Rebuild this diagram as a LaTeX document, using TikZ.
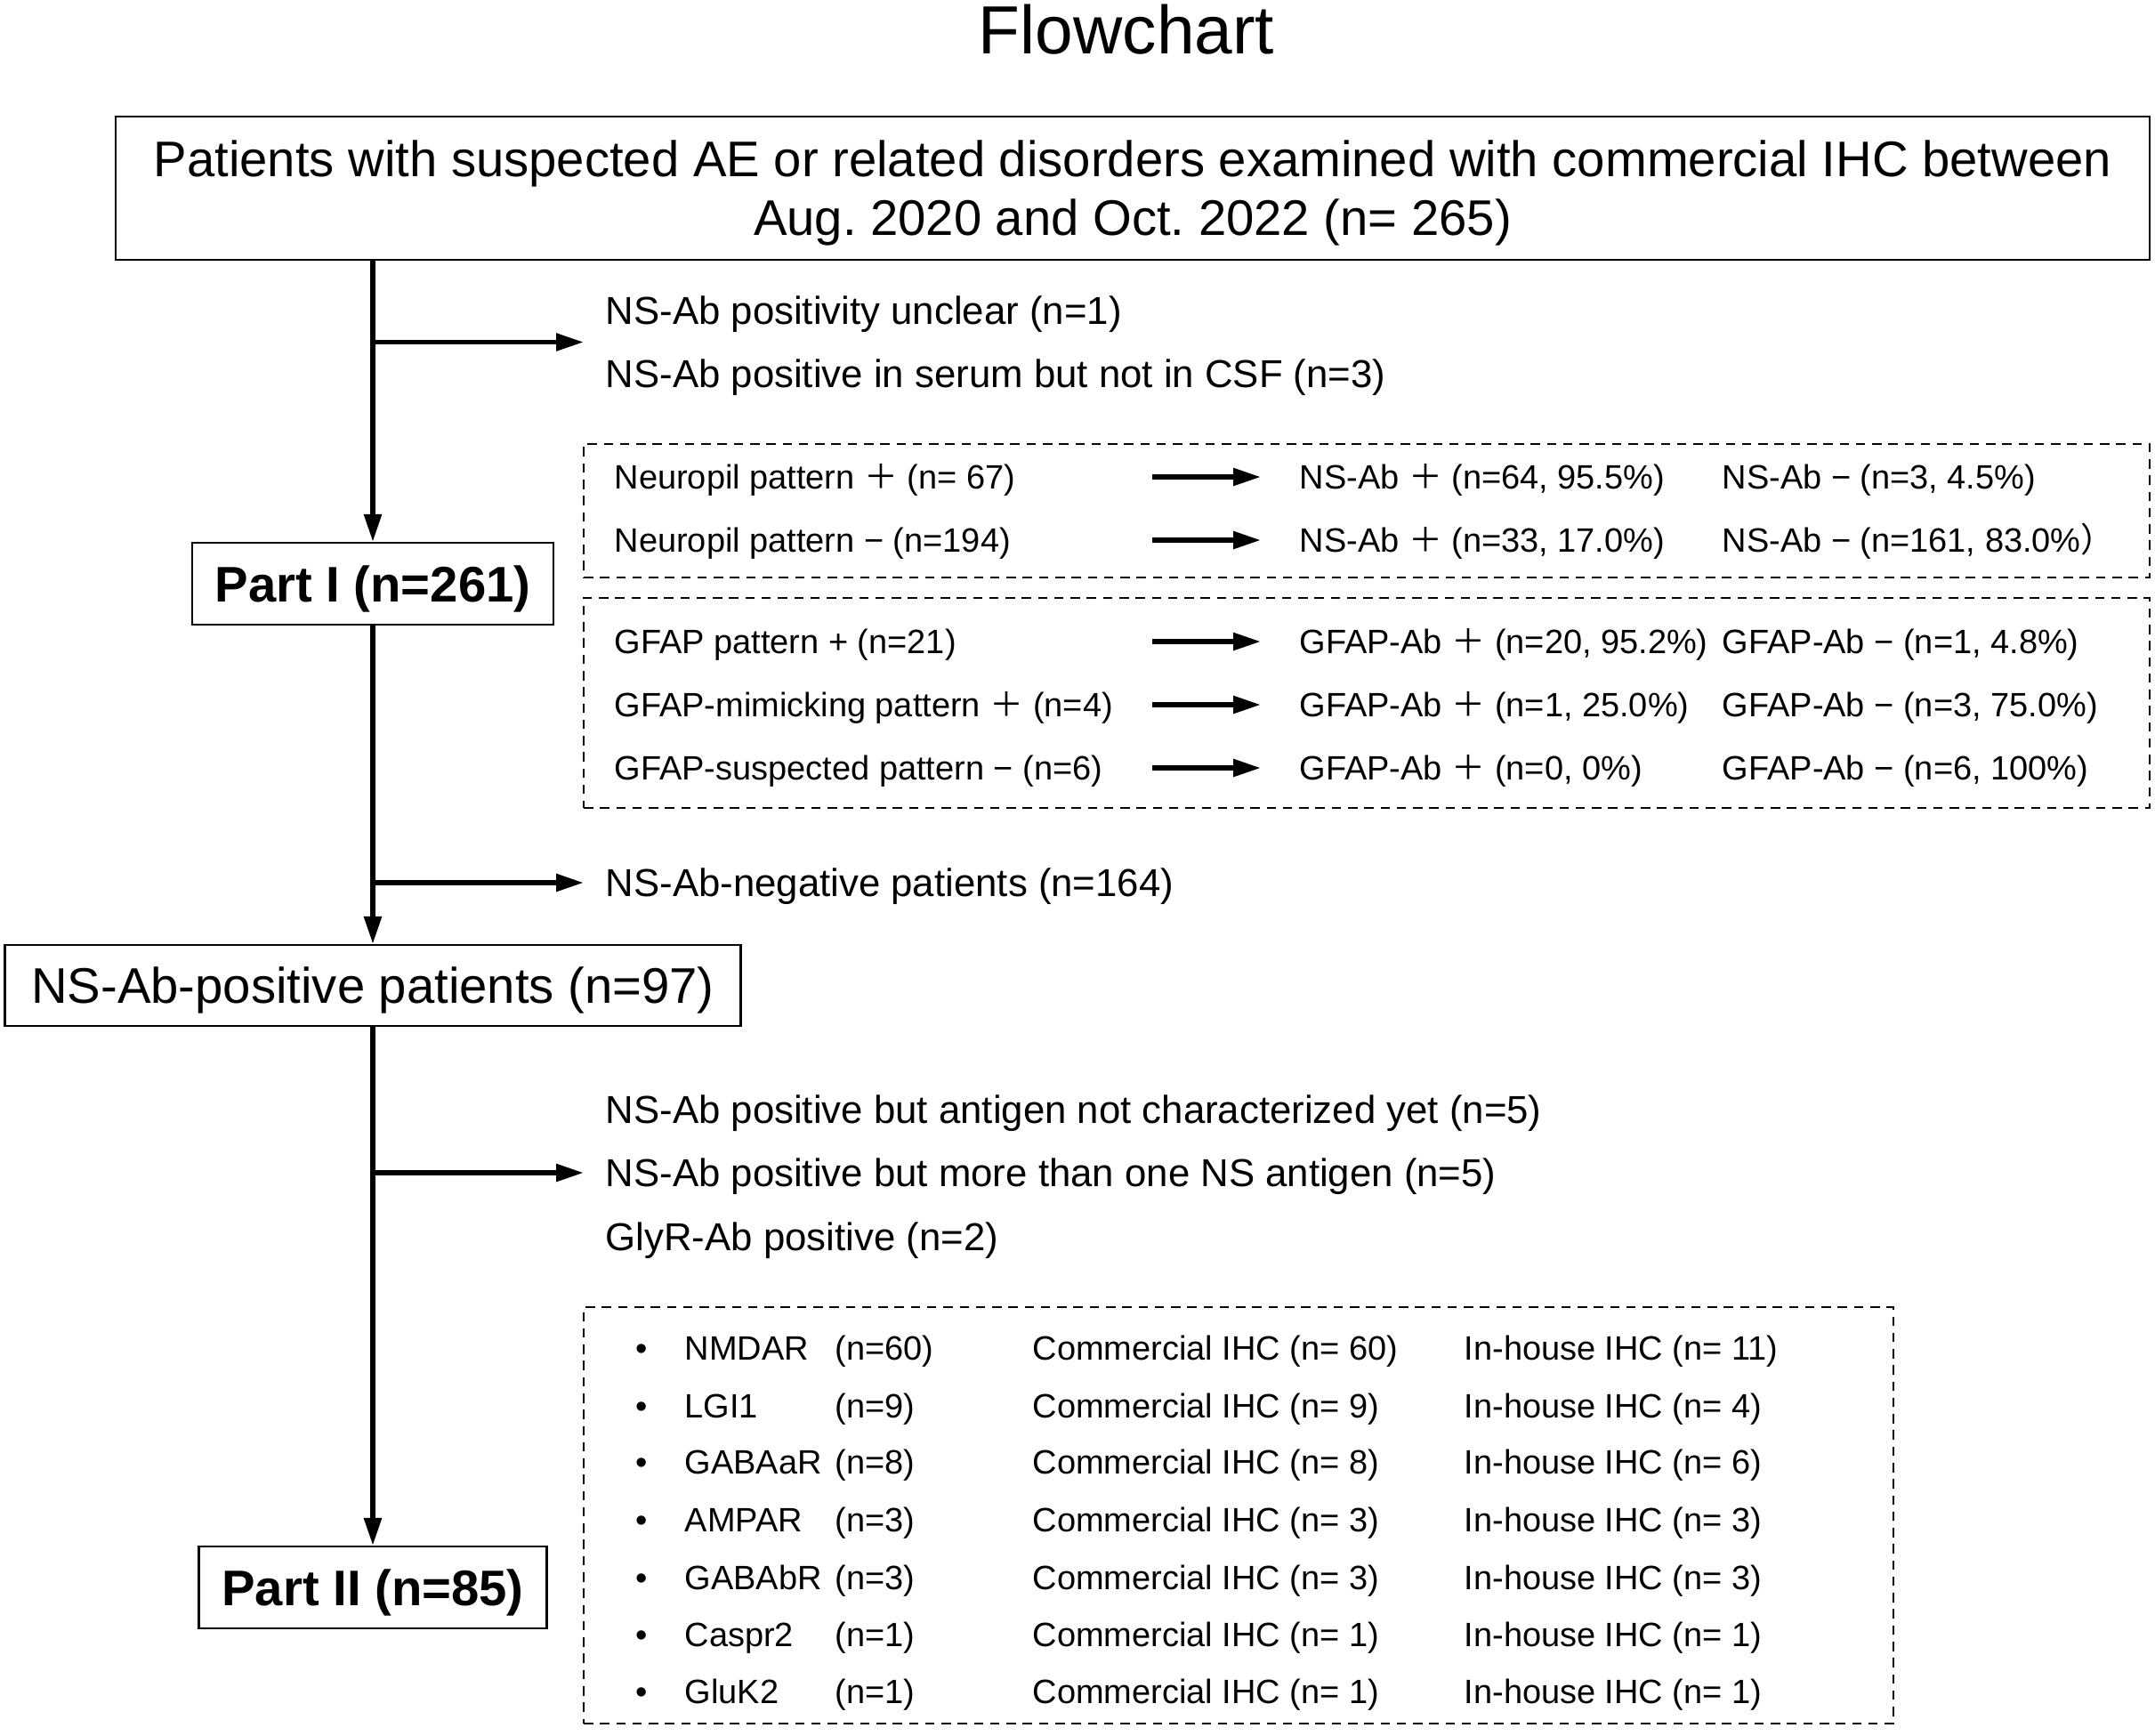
\documentclass[tikz,border=0pt]{standalone}
\usepackage{fontspec}
\setmainfont{Liberation Sans}
\newfontfamily\cjkfont{Noto Sans CJK SC}
\usetikzlibrary{arrows.meta,positioning,calc}
\frenchspacing

\newcommand{\wplus}{{\cjkfont ＋}}
\newcommand{\wparen}{{\cjkfont ）}}

\begin{document}
\begin{tikzpicture}[
  every node/.style={align=center, inner sep=0pt},
  title/.style={font=\fontsize{21.8}{26}\selectfont, text height=15.6pt, text depth=0pt},
  headbox/.style={draw, line width=0.6pt, text height=11.5pt, text depth=0pt,
                  font=\fontsize{16}{18.8}\selectfont},
  partbox/.style={draw, line width=0.6pt, text height=11.5pt, text depth=0pt,
                  font=\bfseries\fontsize{16}{19}\selectfont},
  excl/.style={anchor=west, align=left, inner xsep=0.24cm, text height=8.9pt, text depth=0pt,
               font=\fontsize{12.45}{20.3}\selectfont},
  group/.style={draw, dash pattern=on 3pt off 2.2pt, line width=0.5pt},
  cell/.style={anchor=west, text height=7.7pt, text depth=0pt, font=\fontsize{10.8}{13}\selectfont},
  arr/.style={-{Triangle[length=0.31cm, width=0.19cm]}, line width=1.6pt},
]
\useasboundingbox (0,0) rectangle (24.22,-19.50);

%% --- Title and entry box ---
\node[title] (title) at (12.66,-0.33) {Flowchart};
\node[headbox, text height=30.3pt, minimum width=22.86cm, minimum height=1.61cm] (entry) at (12.73,-2.115)
  {Patients with suspected AE or related disorders examined with commercial IHC between\\
   Aug. 2020 and Oct. 2022 (n= 265)};

%% --- Main column ---
\node[partbox, minimum width=4.06cm, minimum height=0.92cm] (partI)  at (4.19,-6.56)  {Part I (n=261)};
\node[headbox, minimum width=8.27cm, minimum height=0.91cm] (pos)    at (4.19,-11.075) {NS-Ab-positive patients (n=97)};
\node[partbox, minimum width=3.91cm, minimum height=0.92cm] (partII) at (4.19,-17.84) {Part II (n=85)};

\draw[arr] (entry.south -| partI.north) -- (partI.north);
\draw[arr] (partI.south) -- (pos.north);
\draw[arr] (pos.south) -- (partII.north);

%% --- Exclusions ---
\node[excl, text height=29.2pt] (out1) at (6.56,-3.845)
  {NS-Ab positivity unclear (n=1)\\NS-Ab positive in serum but not in CSF (n=3)};
\node[excl] (out2) at (6.56,-9.92) {NS-Ab-negative patients (n=164)};
\node[excl, text height=49.5pt] (out3) at (6.56,-13.18)
  {NS-Ab positive but antigen not characterized yet (n=5)\\
   NS-Ab positive but more than one NS antigen (n=5)\\GlyR-Ab positive (n=2)};

\draw[arr] (out1.west -| partI) -- (out1.west);
\draw[arr] (out2.west -| partI) -- (out2.west);
\draw[arr] (out3.west -| pos)   -- (out3.west);

%% --- Box 1: neuropil pattern ---
\node[group, minimum width=17.60cm, minimum height=1.50cm] (npbox) at (15.36,-5.74) {};
\node[cell] (np1)  at ( 6.90,-5.36) {Neuropil pattern \wplus{} (n= 67)};
\node[cell] (np1p) at (14.60,-5.36) {NS-Ab \wplus{} (n=64, 95.5\%)};
\node[cell] (np1m) at (19.35,-5.36) {NS-Ab − (n=3, 4.5\%)};
\node[cell] (np2)  at ( 6.90,-6.07) {Neuropil pattern − (n=194)};
\node[cell] (np2p) at (14.60,-6.07) {NS-Ab \wplus{} (n=33, 17.0\%)};
\node[cell] (np2m) at (19.35,-6.07) {NS-Ab − (n=161, 83.0\%\wparen};

%% --- Box 2: GFAP pattern ---
\node[group, minimum width=17.60cm, minimum height=2.36cm] (gfbox) at (15.36,-7.90) {};
\node[cell] (gf1)  at ( 6.90,-7.21) {GFAP pattern + (n=21)};
\node[cell] (gf1p) at (14.60,-7.21) {GFAP-Ab \wplus{} (n=20, 95.2\%)};
\node[cell] (gf1m) at (19.35,-7.21) {GFAP-Ab − (n=1, 4.8\%)};
\node[cell] (gf2)  at ( 6.90,-7.92) {GFAP-mimicking pattern \wplus{} (n=4)};
\node[cell] (gf2p) at (14.60,-7.92) {GFAP-Ab \wplus{} (n=1, 25.0\%)};
\node[cell] (gf2m) at (19.35,-7.92) {GFAP-Ab − (n=3, 75.0\%)};
\node[cell] (gf3)  at ( 6.90,-8.63) {GFAP-suspected pattern − (n=6)};
\node[cell] (gf3p) at (14.60,-8.63) {GFAP-Ab \wplus{} (n=0, 0\%)};
\node[cell] (gf3m) at (19.35,-8.63) {GFAP-Ab − (n=6, 100\%)};

\coordinate (s1) at (12.95,-5.36);
\coordinate (s2) at (12.95,-6.07);
\coordinate (s3) at (12.95,-7.21);
\coordinate (s4) at (12.95,-7.92);
\coordinate (s5) at (12.95,-8.63);
\draw[arr] (s1) -- ([xshift=-0.43cm]np1p.west);
\draw[arr] (s2) -- ([xshift=-0.43cm]np2p.west);
\draw[arr] (s3) -- ([xshift=-0.43cm]gf1p.west);
\draw[arr] (s4) -- ([xshift=-0.43cm]gf2p.west);
\draw[arr] (s5) -- ([xshift=-0.43cm]gf3p.west);

%% --- Box 3: antigens in Part II ---
\node[group, minimum width=14.72cm, minimum height=4.68cm] (agbox) at (13.92,-17.03) {};
\node[cell] (b1) at (7.14,-15.15) {•}; \node[cell] (ag1) at (7.69,-15.15) {NMDAR};
\node[cell] (n1) at (9.38,-15.15) {(n=60)};
\node[cell] (c1) at (11.60,-15.15) {Commercial IHC (n= 60)};
\node[cell] (h1) at (16.45,-15.15) {In-house IHC (n= 11)};
\node[cell] (b2) at (7.14,-15.80) {•}; \node[cell] (ag2) at (7.69,-15.80) {LGI1};
\node[cell] (n2) at (9.38,-15.80) {(n=9)};
\node[cell] (c2) at (11.60,-15.80) {Commercial IHC (n= 9)};
\node[cell] (h2) at (16.45,-15.80) {In-house IHC (n= 4)};
\node[cell] (b3) at (7.14,-16.43) {•}; \node[cell] (ag3) at (7.69,-16.43) {GABAaR};
\node[cell] (n3) at (9.38,-16.43) {(n=8)};
\node[cell] (c3) at (11.60,-16.43) {Commercial IHC (n= 8)};
\node[cell] (h3) at (16.45,-16.43) {In-house IHC (n= 6)};
\node[cell] (b4) at (7.14,-17.08) {•}; \node[cell] (ag4) at (7.69,-17.08) {AMPAR};
\node[cell] (n4) at (9.38,-17.08) {(n=3)};
\node[cell] (c4) at (11.60,-17.08) {Commercial IHC (n= 3)};
\node[cell] (h4) at (16.45,-17.08) {In-house IHC (n= 3)};
\node[cell] (b5) at (7.14,-17.73) {•}; \node[cell] (ag5) at (7.69,-17.73) {GABAbR};
\node[cell] (n5) at (9.38,-17.73) {(n=3)};
\node[cell] (c5) at (11.60,-17.73) {Commercial IHC (n= 3)};
\node[cell] (h5) at (16.45,-17.73) {In-house IHC (n= 3)};
\node[cell] (b6) at (7.14,-18.37) {•}; \node[cell] (ag6) at (7.69,-18.37) {Caspr2};
\node[cell] (n6) at (9.38,-18.37) {(n=1)};
\node[cell] (c6) at (11.60,-18.37) {Commercial IHC (n= 1)};
\node[cell] (h6) at (16.45,-18.37) {In-house IHC (n= 1)};
\node[cell] (b7) at (7.14,-19.01) {•}; \node[cell] (ag7) at (7.69,-19.01) {GluK2};
\node[cell] (n7) at (9.38,-19.01) {(n=1)};
\node[cell] (c7) at (11.60,-19.01) {Commercial IHC (n= 1)};
\node[cell] (h7) at (16.45,-19.01) {In-house IHC (n= 1)};

\end{tikzpicture}
\end{document}
